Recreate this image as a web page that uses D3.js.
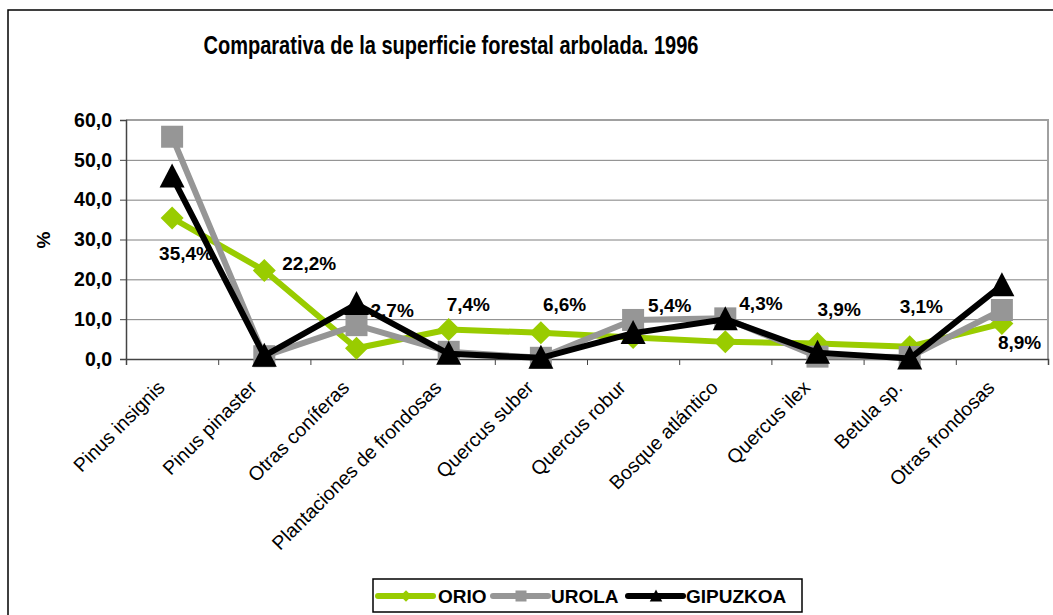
<!DOCTYPE html>
<html><head><meta charset="utf-8">
<script src="https://cdn.jsdelivr.net/npm/d3@7/dist/d3.min.js"></script>
<style>
html,body{margin:0;padding:0;background:#fff;}
svg{display:block;font-family:"Liberation Sans",Arial,sans-serif;}
</style></head>
<body>
<svg id="chart" width="1053" height="615"></svg>
<script>
const title = "Comparativa de la superficie forestal arbolada. 1996";
const categories = ["Pinus insignis","Pinus pinaster","Otras coníferas","Plantaciones de frondosas","Quercus suber","Quercus robur","Bosque atlántico","Quercus ilex","Betula sp.","Otras frondosas"];
const orio = [35.4,22.2,2.7,7.4,6.6,5.4,4.3,3.9,3.1,8.9];
const urola = [55.8,0.7,8.5,1.8,0.3,9.8,10.2,0.6,0.5,12.3];
const gipuzkoa = [45.8,0.8,13.8,1.3,0.3,6.5,10.0,1.6,0.1,18.5];
const yTicks = [0,10,20,30,40,50,60];
const seriesNames = ["ORIO","UROLA","GIPUZKOA"];

const svg = d3.select("#chart");
const L = 126, R = 1048, T = 120, B = 359;

// outer chart border
svg.append("rect").attr("x",8).attr("y",10).attr("width",1070).attr("height",640)
  .attr("fill","#fff").attr("stroke","#000").attr("stroke-width",1.5);

svg.append("text").attr("x",451).attr("y",54).attr("text-anchor","middle")
  .attr("font-size",25).attr("font-weight","bold")
  .attr("textLength",495).attr("lengthAdjust","spacingAndGlyphs").text(title);

const x = d3.scaleBand().domain(categories).range([L,R]).padding(0);
const xb = d3.scaleLinear().domain([0,categories.length]).range([L,R]);
const y = d3.scaleLinear().domain([0,60]).range([B,T]);
const cx = c => x(c) + x.bandwidth()/2;

// gridlines
svg.append("g").attr("transform",`translate(${L},0)`)
  .call(d3.axisLeft(y).tickValues(yTicks.filter(v=>v>0)).tickSize(-(R-L)).tickFormat(""))
  .call(g=>g.select(".domain").remove())
  .call(g=>g.selectAll("line").attr("stroke","#808080").attr("stroke-width",1));
// plot border top/right
svg.append("path").attr("d",`M${L},${T}H${R}V${B}`).attr("fill","none").attr("stroke","#a0a0a0").attr("stroke-width",2);

// y axis
const fmt = d => d.toFixed(1).replace(".",",");
svg.append("g").attr("transform",`translate(${L},0)`)
  .call(d3.axisLeft(y).tickValues(yTicks).tickSize(6).tickPadding(8).tickFormat(fmt))
  .call(g=>g.select(".domain").attr("stroke","#444").attr("stroke-width",1.5))
  .call(g=>g.selectAll("line").attr("stroke","#444"))
  .call(g=>g.selectAll("text").attr("font-size",19.5).attr("font-weight","bold").attr("fill","#000").attr("font-family","Liberation Sans, Arial, sans-serif"));

// x axis
svg.append("g").attr("transform",`translate(0,${B})`)
  .call(d3.axisBottom(xb).ticks(categories.length).tickSize(6).tickFormat(""))
  .call(g=>g.select(".domain").attr("stroke","#444").attr("stroke-width",1.5))
  .call(g=>g.selectAll("line").attr("stroke","#444"));

// category labels
svg.append("g").selectAll("text").data(categories).join("text")
  .attr("transform",c=>`translate(${cx(c)-11},${B+25}) rotate(-45)`)
  .attr("text-anchor","end").attr("dy","0.35em")
  .attr("font-size",19.5).attr("fill","#000").text(c=>c);

// y title
svg.append("text").attr("transform","translate(50,240) rotate(-90)")
  .attr("text-anchor","middle").attr("font-size",19).attr("font-weight","bold").text("%");

// markers
function marker(g, type, color, px, py){
  if(type==="diamond"){
    g.append("path").attr("d",`M${px},${py-11.5}L${px+11.5},${py}L${px},${py+11.5}L${px-11.5},${py}Z`).attr("fill",color);
  } else if(type==="square"){
    g.append("rect").attr("x",px-11).attr("y",py-11).attr("width",22).attr("height",22).attr("fill",color);
  } else {
    g.append("path").attr("d",`M${px},${py-13}L${px+12.5},${py+11}L${px-12.5},${py+11}Z`).attr("fill",color);
  }
}

const series = [
  {name:seriesNames[0], values:orio, color:"#99cc00", type:"diamond"},
  {name:seriesNames[1], values:urola, color:"#969696", type:"square"},
  {name:seriesNames[2], values:gipuzkoa, color:"#000000", type:"triangle"}
];
const line = d3.line().x((d,i)=>cx(categories[i])).y(d=>y(d));
series.forEach(s=>{
  const g = svg.append("g");
  g.append("path").datum(s.values).attr("d",line).attr("fill","none")
    .attr("stroke",s.color).attr("stroke-width",6).attr("stroke-linejoin","round");
  s.values.forEach((v,i)=>marker(g,s.type,s.color,cx(categories[i]),y(v)));
});

// data labels for ORIO
const nudge = [[-13,35],[18,-7],[14,-38],[-2,-25],[2,-28],[15,-32],[14,-39],[0,-34],[-10,-40],[-4,19]];
svg.append("g").selectAll("text").data(orio).join("text")
  .attr("x",(d,i)=>cx(categories[i])+nudge[i][0])
  .attr("y",(d,i)=>y(d)+nudge[i][1])
  .attr("dy","0.35em").attr("font-size",19).attr("font-weight","bold")
  .text(d=>fmt(d)+"%");

// legend
const lg = svg.append("g");
lg.append("rect").attr("x",373).attr("y",579).attr("width",429).attr("height",33)
  .attr("fill","#fff").attr("stroke","#000").attr("stroke-width",1.5);
const legX = [378,493,628];
const legTX = [438,551,686];
series.forEach((s,i)=>{
  const ly = 596;
  lg.append("line").attr("x1",legX[i]).attr("x2",legX[i]+55).attr("y1",ly).attr("y2",ly)
    .attr("stroke",s.color).attr("stroke-width",6).attr("stroke-linecap","round");
  const gm = lg.append("g").attr("transform",`translate(${legX[i]+28},${ly}) scale(0.5)`);
  marker(gm,s.type,s.color,0,0);
  lg.append("text").attr("x",legTX[i]).attr("y",ly).attr("dy","0.35em")
    .attr("font-size",19).attr("font-weight","bold").text(s.name);
});
</script>
</body></html>
